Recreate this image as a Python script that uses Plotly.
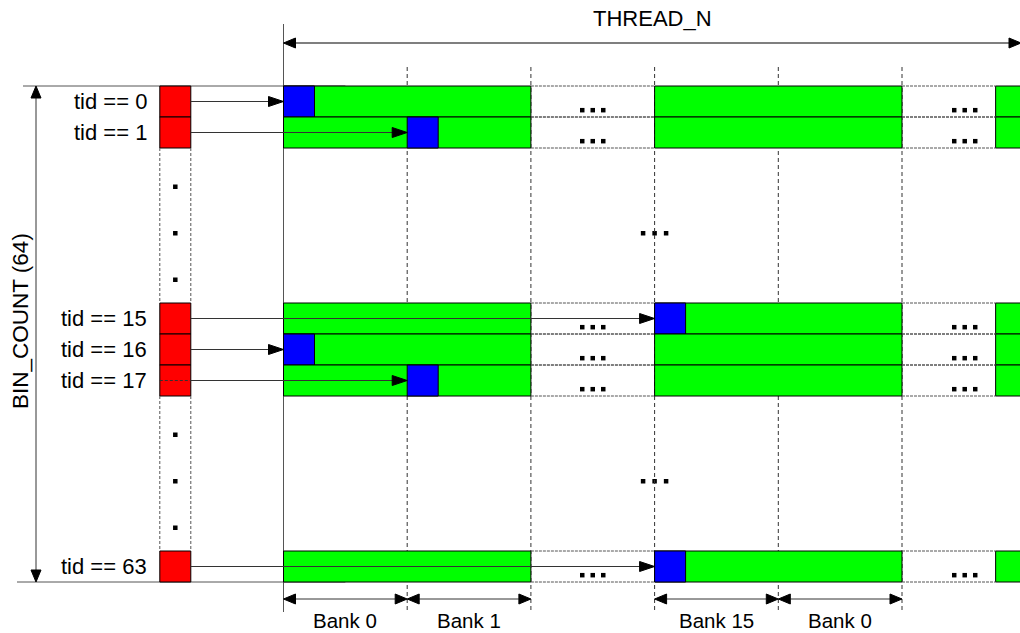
import plotly.graph_objects as go

# ---------------- data ----------------
tid_groups = [[0, 1], [15, 16, 17], [63]]      # rows drawn, in visual groups
bank_count = 16                                 # banks per shared-memory row
bin_count = 64
shown_banks = [0, 1, 15, 0]                     # banks labelled under the matrix
thread_label = "THREAD_N"
bin_label = "BIN_COUNT (%d)" % bin_count
row_label_fmt = "tid == %d"

# ---------------- layout constants (pixels -> units) ----------------
W, H = 1020, 633
BX, RY = 123.7, 31.0          # px per bank column, px per row slot
X0, Y0 = 283.5, 86.0          # px position of matrix origin
GAP_ROWS = 5
WORD = 31.0 / BX              # width of one word cell (blue / red)
COL_X = [0, 1, 3, 4]          # x of each shown bank column
GAP_COLS = [(2, 3), (5, 5.757)]
TAIL_X = 5.757
XMAX = (W - X0) / BX
FONT = "Liberation Sans, Arial"


def px2x(p):
    return (p - X0) / BX


def px2y(p):
    return (p - Y0) / RY


shapes = []
annotations = []
LINE = "#333333"
GRAY = "#555555"


def rect(x0, x1, y0, y1, fill, lc="black", lw=1):
    shapes.append(dict(type="rect", xref="x", yref="y", x0=x0, x1=x1, y0=y0, y1=y1,
                       fillcolor=fill, line=dict(color=lc, width=lw), layer="above"))


def line(x0, y0, x1, y1, color=LINE, width=1, dash="solid"):
    shapes.append(dict(type="line", xref="x", yref="y", x0=x0, y0=y0, x1=x1, y1=y1,
                       line=dict(color=color, width=width, dash=dash), layer="above"))


def head(xt, yt, d, L=13, Wd=5):
    if d in ("r", "l"):
        s = 1 if d == "r" else -1
        bx = xt - s * L / BX
        dy = Wd / RY
        path = "M %f,%f L %f,%f L %f,%f Z" % (xt, yt, bx, yt - dy, bx, yt + dy)
    else:
        s = 1 if d == "d" else -1
        by = yt - s * L / RY
        dx = Wd / BX
        path = "M %f,%f L %f,%f L %f,%f Z" % (xt, yt, xt - dx, by, xt + dx, by)
    shapes.append(dict(type="path", xref="x", yref="y", path=path,
                       fillcolor="black", line=dict(color="black", width=1), layer="above"))


# assign slots
rows = []
gaps = []
slot = 0
for gi, g in enumerate(tid_groups):
    for t in g:
        rows.append((t, slot))
        slot += 1
    if gi < len(tid_groups) - 1:
        gaps.append((slot, slot + GAP_ROWS))
        slot += GAP_ROWS
last_slot = slot

# structural lines
y_top_line = px2y(24)
y_bottom_dash = px2y(612)
line(0, y_top_line, 0, y_bottom_dash, color=GRAY)
for xd in [1, 2, 3, 4, 5]:
    line(xd, px2y(67), xd, y_bottom_dash, color=LINE, dash="4px,3px")
line(px2x(23), 0, 0.5, 0, color=GRAY)
line(px2x(17), last_slot, 0.5, last_slot, color=GRAY)

dot_x, dot_y = [], []

for t, s in rows:
    # matrix row
    rect(0, 2, s, s + 1, "#00ff00")
    rect(3, 5, s, s + 1, "#00ff00")
    rect(TAIL_X, XMAX + 0.2, s, s + 1, "#00ff00")
    for a, b in GAP_COLS:
        line(a, s, b, s, color=GRAY, dash="3px,1px")
        line(a, s + 1, b, s + 1, color=GRAY, dash="3px,1px")
        cx = (a + b) / 2 if b - a > 0.9 else b - 0.25
        for k in (-1, 0, 1):
            dot_x.append(cx + k * 10.5 / BX)
            dot_y.append(s + 0.78)
    # red source cell
    rect(-1, -1 + WORD, s, s + 1, "#ff0000")
    # blue target cell
    col = COL_X[shown_banks.index(t % bank_count)]
    rect(col, col + WORD, s, s + 1, "#0000ff")
    # arrow
    ya = s + 0.5
    if t == 17:
        line(-1, ya, -1 + WORD, ya, color=LINE, dash="3px,2px")
    line(-1 + WORD, ya, col - 10 / BX, ya, color=LINE)
    head(col, ya, "r", L=15, Wd=5)
    annotations.append(dict(x=px2x(149), y=ya, xref="x", yref="y", text=row_label_fmt % t,
                            showarrow=False, xanchor="right", yanchor="middle",
                            font=dict(size=22, color="black", family=FONT)))

# vertical ellipses in gaps
for g0, g1 in gaps:
    line(-1, g0, -1, g1, color=GRAY, dash="3px,2px")
    line(-1 + WORD, g0, -1 + WORD, g1, color=GRAY, dash="3px,2px")
    for f in (1.25, 2.75, 4.25):
        dot_x.append(-1 + WORD / 2)
        dot_y.append(g0 + f)
    for k in (-1, 0, 1):
        dot_x.append(3 + k * 11.5 / BX)
        dot_y.append(g0 + 2.75)

# BIN_COUNT arrow
xb = px2x(36)
line(xb, 12 / RY, xb, last_slot - 12 / RY, color=LINE)
head(xb, 0, "u", L=12, Wd=5)
head(xb, last_slot, "d", L=12, Wd=5)
annotations.append(dict(x=px2x(20), y=px2y(321), xref="x", yref="y", text=bin_label,
                        showarrow=False, textangle=-90,
                        font=dict(size=22.5, color="black", family=FONT)))

# THREAD_N arrow
yt = px2y(43)
xr = px2x(1021)
line(12 / BX, yt, xr - 12 / BX, yt, color=GRAY, width=1.5)
head(0, yt, "l", L=12, Wd=5)
head(xr, yt, "r", L=12, Wd=5)
annotations.append(dict(x=(0 + xr) / 2, y=px2y(18), xref="x", yref="y", text=thread_label,
                        showarrow=False,
                        font=dict(size=22, color="black", family=FONT)))

# bank arrows and labels
yb = px2y(599)
for b, cx in zip(shown_banks, COL_X):
    line(cx + 12 / BX, yb, cx + 1 - 12 / BX, yb, color=LINE)
    head(cx, yb, "l", L=12, Wd=5)
    head(cx + 1, yb, "r", L=12, Wd=5)
    annotations.append(dict(x=cx + 0.5, y=px2y(620), xref="x", yref="y", text="Bank %d" % b,
                            showarrow=False,
                            font=dict(size=20.5, color="black", family=FONT)))

fig = go.Figure()
fig.add_trace(go.Scatter(x=dot_x, y=dot_y, mode="markers",
                         marker=dict(symbol="square", size=4.5, color="black"),
                         hoverinfo="skip", showlegend=False))
fig.update_layout(
    width=W, height=H, margin=dict(l=0, r=0, t=0, b=0),
    paper_bgcolor="white", plot_bgcolor="white",
    xaxis=dict(range=[px2x(0), px2x(W)], visible=False, fixedrange=True),
    yaxis=dict(range=[px2y(H), px2y(0)], visible=False, fixedrange=True),
    shapes=shapes, annotations=annotations, showlegend=False,
)
fig.write_html("out.html", config=dict(displayModeBar=False),
               post_script="document.body.style.margin='0';document.body.style.overflow='hidden';")
